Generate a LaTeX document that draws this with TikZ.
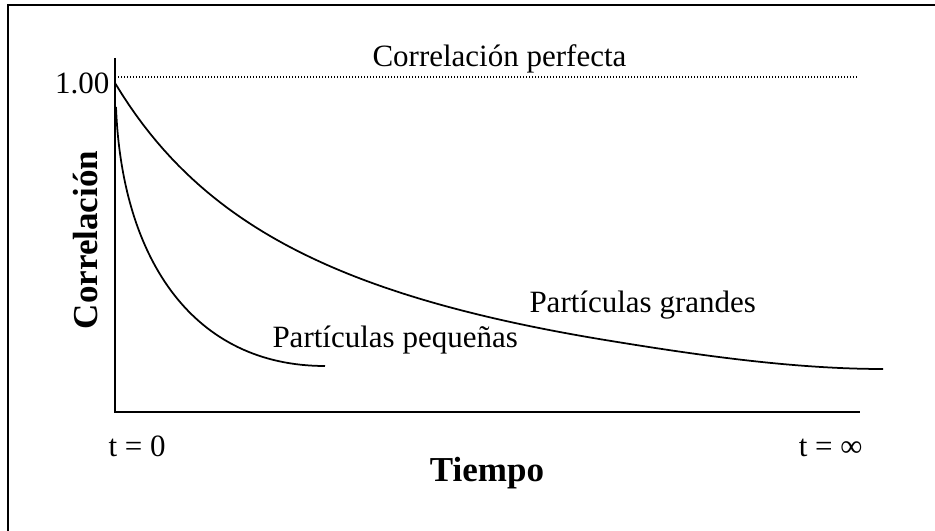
\documentclass[tikz,border=0pt]{standalone}
\usepackage{fontspec}
\setmainfont{Liberation Serif}

\begin{document}
\begin{tikzpicture}[x=0.4pt,y=-0.4pt,
        axisline/.style={line width=0.8pt},
        decaycurve/.style={line width=0.7pt},
        texto/.style={inner sep=0pt,font=\fontsize{12.4}{14}\selectfont},
        titulo/.style={inner sep=0pt,font=\fontsize{14}{16}\selectfont\bfseries}]
        \useasboundingbox (0,0) rectangle (935,531);
        % marco
        \draw[axisline] (935,5) -| (8,531);
        % ejes
        \coordinate (ytop) at (115,58);
        \coordinate (origen) at (115,412);
        \coordinate (xfin) at (860,412);
        \draw[axisline] (ytop) -- (origen) -- (xfin);
        % correlacion perfecta
        \coordinate (pa) at (118,77);
        \coordinate (pb) at (857,77);
        \draw[line width=0.5pt,dash pattern=on 0.5pt off 0.7pt] (pa) -- (pb);
        \begin{scope}[every path/.style={decaycurve}]
            \coordinate (gr1) at (883,369);
            \draw plot[domain=0:485,samples=70] ({115+\x},{83+375*(\x/(\x+225))})
                .. controls (690,354) and (790,369) .. (gr1);
            \coordinate (pq0) at (116,107);
            \coordinate (pq1) at (325,366);
            \draw (pq0) .. controls (122,262) and (195,366) .. (pq1);
        \end{scope}
        \node[texto,anchor=base west] (perfecta) at (372,67) {Correlación perfecta};
        \node[texto,anchor=base east] (uno) at (110,94) {1.00};
        \node[titulo,rotate=90,anchor=base] (ylabel) at (97,240) {Correlación};
        \node[texto,anchor=base west] (pequenas) at (272,348) {Partículas pequeñas};
        \node[texto,anchor=base west] (grandes) at (529,313) {Partículas grandes};
        \node[texto,anchor=base west] (tcero) at (108,457) {t = 0};
        \node[texto,anchor=base east] (tinf) at (863,457) {t = ∞};
        \node[titulo,anchor=base] (tiempo) at (487,482) {Tiempo};
\end{tikzpicture}
\end{document}
